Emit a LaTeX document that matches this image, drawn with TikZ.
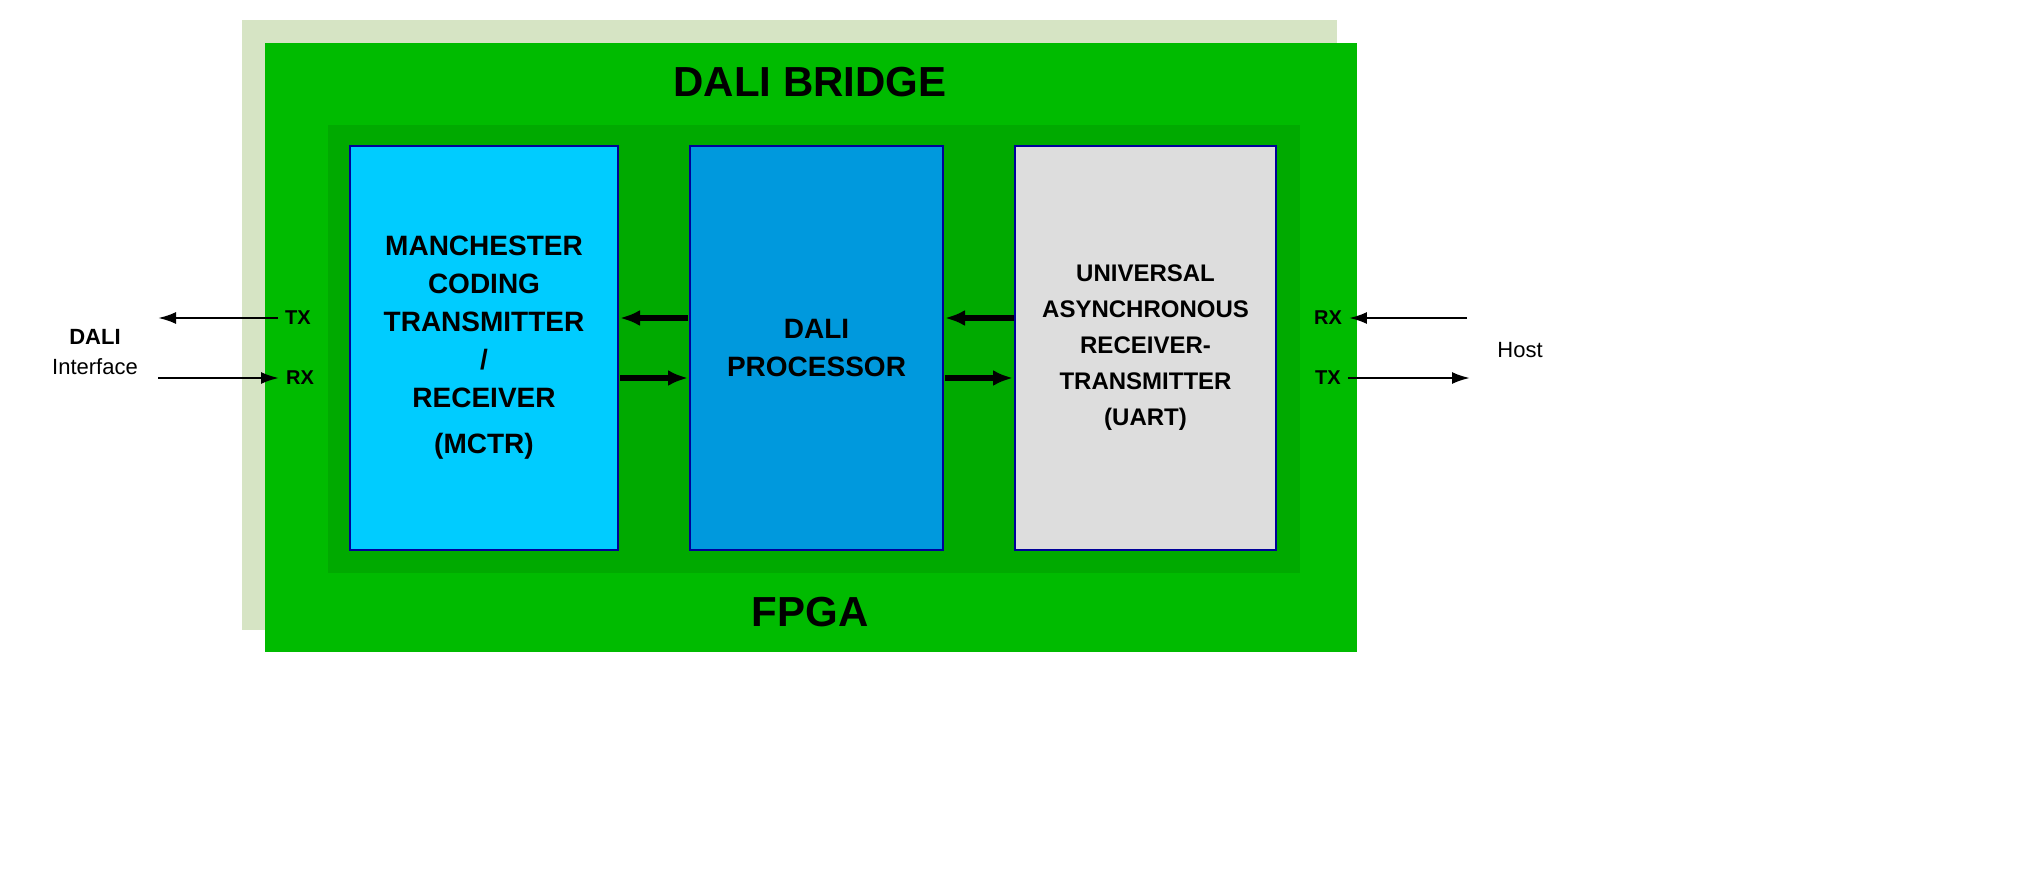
\documentclass[tikz,border=0pt]{standalone}
\usepackage{fontspec}
\setmainfont{Liberation Sans}
\usetikzlibrary{arrows.meta}
\definecolor{pale}{HTML}{D6E4C4}
\definecolor{fg}{HTML}{00BB00}
\definecolor{fgd}{HTML}{00AA00}
\definecolor{cyanb}{HTML}{00CCFF}
\definecolor{blueb}{HTML}{0099DD}
\definecolor{greyb}{HTML}{DDDDDD}
\begin{document}
\begin{tikzpicture}[x=0.5pt,y=-0.5pt,
  blk/.style={draw=blue!60!black,line width=1pt,align=center,font=\bfseries\fontsize{14}{19}\selectfont,inner sep=0},
  thinar/.style={-{Latex[length=9pt,width=6pt]},line width=1.2pt},
  thickar/.style={-{Latex[length=10pt,width=8pt]},line width=3pt},
  lbl/.style={font=\bfseries\fontsize{10}{12}\selectfont}]
\fill[white] (0,0) rectangle (2028,873);
\fill[pale] (242,20) rectangle (1337,630);
\fill[fg] (265,43) rectangle (1357,652);
\fill[fgd] (328,125) rectangle (1300,573);
\node[font=\bfseries\fontsize{21}{24}\selectfont] (title) at (810,82) {DALI BRIDGE};
\node[font=\bfseries\fontsize{21}{24}\selectfont] (fpga) at (810,612) {FPGA};
\node[blk,fill=cyanb,minimum width=134pt,minimum height=202pt] (m) at (484,348) {MANCHESTER\\CODING\\TRANSMITTER\\/\\RECEIVER\\[4pt](MCTR)};
\node[blk,fill=blueb,minimum width=126.5pt,minimum height=202pt] (p) at (816.5,348) {DALI\\PROCESSOR};
\node[blk,fill=greyb,minimum width=130.5pt,minimum height=202pt,font=\bfseries\fontsize{12}{18}\selectfont] (u) at (1145.5,348) {UNIVERSAL\\ASYNCHRONOUS\\RECEIVER-\\TRANSMITTER\\(UART)};
\coordinate (a1) at (688,318); \coordinate (a2) at (620,318);
\coordinate (a3) at (620,378); \coordinate (a4) at (688,378);
\coordinate (b1) at (1014,318); \coordinate (b2) at (945,318);
\coordinate (b3) at (945,378); \coordinate (b4) at (1013,378);
\draw[thickar] (a1) -- (a2);
\draw[thickar] (a3) -- (a4);
\draw[thickar] (b1) -- (b2);
\draw[thickar] (b3) -- (b4);
\node[lbl] (ltx) at (298,318) {TX};
\node[lbl] (lrx) at (300,378) {RX};
\node[lbl] (rrx) at (1328,318) {RX};
\node[lbl] (rtx) at (1328,378) {TX};
\coordinate (dl1) at (158,318); \coordinate (dl2) at (158,378);
\coordinate (h1) at (1467,318); \coordinate (h2) at (1470,378);
\draw[thinar] (ltx.west) -- (dl1);
\draw[thinar] (dl2) -- (lrx.west);
\draw[thinar] (h1) -- (rrx.east);
\draw[thinar] (rtx.east) -- (h2);
\node[font=\fontsize{11}{15}\selectfont,align=center] (dali) at (95,352) {\textbf{DALI}\\Interface};
\node[font=\fontsize{11}{13}\selectfont] (host) at (1520,350) {Host};
\end{tikzpicture}
\end{document}
